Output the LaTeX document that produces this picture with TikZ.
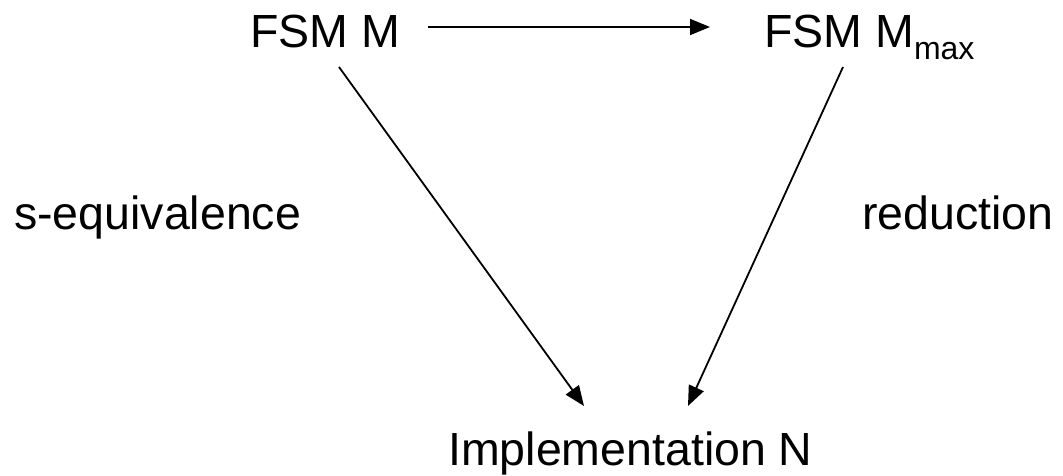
\documentclass[tikz,border=0pt]{standalone}
\usepackage{fontspec}
\setmainfont{Liberation Sans}
\usetikzlibrary{arrows.meta}
\begin{document}
\begin{tikzpicture}[x=1pt,y=-1pt,
  lbl/.style={inner sep=0pt,anchor=base west,font=\fontsize{46.5}{50}\selectfont},
  conn/.style={line width=1.8pt,-{Triangle[length=20pt,width=16pt]}}]
  \useasboundingbox (0,0) rectangle (1063,476);
  % machines and implementation
  \node[lbl] (M) at (250,48) {FSM M};
  \node[lbl] (Mmax) at (764,48) {FSM M\raisebox{-12pt}{\fontsize{32}{34}\selectfont max}};
  \node[lbl] (N) at (448,465) {Implementation N};
  % relation names
  \node[lbl] (seq) at (14,229) {s-equivalence};
  \node[lbl] (red) at (862,229) {reduction};
  % connectors
  \draw[conn] ([shift={(178,-21)}]M.base west) -- ([shift={(-54,-21)}]Mmax.base west);
  \draw[conn] ([shift={(89,19)}]M.base west) -- ([shift={(136,-59)}]N.base west);
  \draw[conn] ([shift={(79,19)}]Mmax.base west) -- ([shift={(240,-59)}]N.base west);
\end{tikzpicture}
\end{document}
